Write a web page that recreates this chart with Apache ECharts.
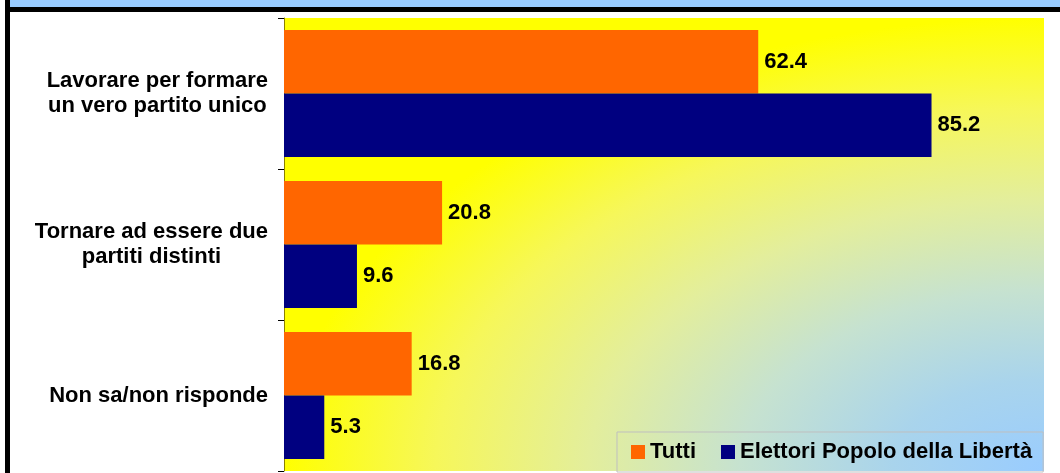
<!DOCTYPE html>
<html>
<head>
<meta charset="utf-8">
<script src="https://cdn.jsdelivr.net/npm/echarts@6/dist/echarts.min.js"></script>
<style>
html, body { margin: 0; padding: 0; background: #ffffff; }
#chart { width: 1060px; height: 473px; }
</style>
</head>
<body>
<div id="chart"></div>
<script>
// ---- data ----
const categories = [
  'Lavorare per formare\nun vero partito unico',
  'Tornare ad essere due\npartiti distinti',
  'Non sa/non risponde'
];
const seriesNames = ['Tutti', 'Elettori Popolo della Libertà'];
const tutti = [62.4, 20.8, 16.8];
const elettori = [85.2, 9.6, 5.3];
const seriesColors = ['#FF6600', '#000080'];

const FONT = '"Liberation Sans", Arial, sans-serif';

const chart = echarts.init(document.getElementById('chart'), null, { renderer: 'canvas' });

// plot area geometry (layout only)
const G = { left: 284, top: 18, right: 1044, bottom: 471 };
const gw = G.right - G.left, gh = G.bottom - G.top;

const option = {
  backgroundColor: 'transparent',
  animation: false,
  graphic: [
    // gradient plot background (elliptical, from bottom-right corner)
    {
      type: 'rect', z: -10, silent: true,
      x: G.right, y: G.bottom, scaleX: 1, scaleY: gh / gw,
      shape: { x: -gw, y: -gw, width: gw, height: gw },
      style: {
        fill: {
          type: 'radial', x: 1, y: 1, r: 1,
          colorStops: [
            { offset: 0, color: '#99CCFF' },
            { offset: 0.2, color: '#A9D4EC' },
            { offset: 0.4, color: '#C6E2D0' },
            { offset: 0.6, color: '#E3EE9C' },
            { offset: 0.8, color: '#F6F75A' },
            { offset: 1, color: '#FFFF00' }
          ]
        }
      }
    },
    // frame decorations
    { type: 'rect', z: 100, silent: true, shape: { x: 10, y: 0, width: 1050, height: 7 }, style: { fill: '#99CCFF' } },
    { type: 'rect', z: 100, silent: true, shape: { x: 5, y: 7, width: 1055, height: 5 }, style: { fill: '#000000' } },
    { type: 'rect', z: 100, silent: true, shape: { x: 5, y: 0, width: 5, height: 473 }, style: { fill: '#000000' } }
  ],
  grid: {
    left: G.left, top: G.top, right: 1060 - G.right, bottom: 473 - G.bottom,
    containLabel: false
  },
  legend: {
    data: seriesNames,
    left: 617, top: 432,
    orient: 'horizontal',
    icon: 'rect',
    itemWidth: 14, itemHeight: 14, itemGap: 25,
    padding: [9, 11, 9, 14],
    borderColor: '#BFBFBF', borderWidth: 1,
    selectedMode: false,
    textStyle: { fontFamily: FONT, fontSize: 22, fontWeight: 'bold', color: '#000' }
  },
  xAxis: {
    type: 'value', min: 0, max: 100, interval: 10,
    show: false,
    splitLine: { show: false }
  },
  yAxis: {
    type: 'category',
    inverse: true,
    data: categories,
    axisLine: { show: true, lineStyle: { color: '#8B8000', width: 1 } },
    axisTick: { show: true, length: 6, lineStyle: { color: '#000000', width: 1 } },
    axisLabel: {
      margin: 16,
      align: 'right',
      formatter: function (v) {
        return v.split('\n').map(function (s) { return '{c|' + s + '}'; }).join('\n');
      },
      rich: {
        c: {
          align: 'center',
          fontFamily: FONT, fontSize: 22, fontWeight: 'bold', color: '#000',
          lineHeight: 25
        }
      }
    },
    splitLine: { show: false }
  },
  series: [
    {
      name: seriesNames[0], type: 'bar', data: tutti,
      barGap: '0%', barCategoryGap: '16%',
      itemStyle: { color: seriesColors[0] },
      label: {
        show: true, position: 'right', distance: 6,
        fontFamily: FONT, fontSize: 22, fontWeight: 'bold', color: '#000',
        formatter: function (p) { return p.value.toFixed(1); }
      }
    },
    {
      name: seriesNames[1], type: 'bar', data: elettori,
      barGap: '0%', barCategoryGap: '16%',
      itemStyle: { color: seriesColors[1] },
      label: {
        show: true, position: 'right', distance: 6,
        fontFamily: FONT, fontSize: 22, fontWeight: 'bold', color: '#000',
        formatter: function (p) { return p.value.toFixed(1); }
      }
    }
  ]
};
chart.setOption(option);
</script>
</body>
</html>
